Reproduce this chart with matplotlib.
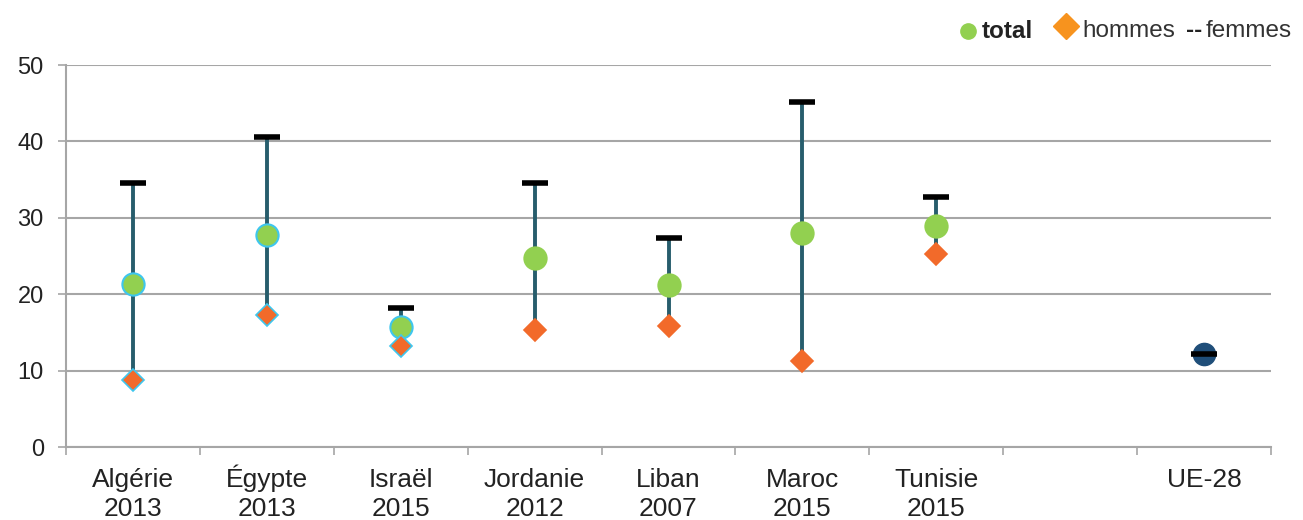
import numpy as np
import matplotlib.pyplot as plt
from matplotlib.lines import Line2D

plt.rcParams['font.family'] = ['Liberation Sans', 'DejaVu Sans']

categories = ['Algérie\n2013', 'Égypte\n2013', 'Israël\n2015', 'Jordanie\n2012',
              'Liban\n2007', 'Maroc\n2015', 'Tunisie\n2015', '', 'UE-28']
total = [21.3, 27.7, 15.7, 24.7, 21.2, 28.0, 28.9, np.nan, 12.2]
hommes = [8.8, 17.3, 13.2, 15.3, 15.8, 11.3, 25.3, np.nan, np.nan]
femmes = [34.6, 40.6, 18.2, 34.6, 27.4, 45.2, 32.7, np.nan, 12.2]
# the first three countries have markers outlined in light blue
outlined = [True, True, True, False, False, False, False, False, False]

line_col = '#275D6C'
green = '#92D050'
orange = '#F26A2A'
cyan = '#3EC6EE'
eu_blue = '#1F4E79'
grid_col = '#A6A6A6'

W, H = 1303, 520
fig = plt.figure(figsize=(W / 100, H / 100), dpi=100)
ax = fig.add_axes([66 / W, 1 - 447 / H, (1271 - 66) / W, (447 - 65) / H])

x = np.arange(len(categories))
tot = np.array(total)
hom = np.array(hommes)
fem = np.array(femmes)
edge = np.array(outlined)

# range line hommes -> femmes
for xi, h, f in zip(x, hom, fem):
    if not np.isnan(h) and not np.isnan(f):
        ax.plot([xi, xi], [h, f], color=line_col, lw=2.8, zorder=3, solid_capstyle='butt')

# total markers
for xi, t, e, lab in zip(x, tot, edge, categories):
    if np.isnan(t):
        continue
    if lab == 'UE-28':
        ax.plot(xi, t, 'o', ms=16, color=eu_blue, mec=eu_blue, zorder=4)
    else:
        ax.plot(xi, t, 'o', ms=16, color=green, mec=cyan if e else green,
                mew=1.5, zorder=4)

# hommes markers
for xi, h, e in zip(x, hom, edge):
    if np.isnan(h):
        continue
    ax.plot(xi, h, 'D', ms=11, color=orange, mec=cyan if e else orange,
            mew=1.2, zorder=4)

# femmes markers
ax.plot(x, fem, '_', ms=19, mew=4, color='black', ls='none', zorder=5)

ax.set_ylim(0, 50)
ax.set_xlim(-0.5, len(categories) - 0.5)
ax.set_yticks(range(0, 51, 10))
ax.yaxis.grid(True, color=grid_col, lw=1.5)
ax.set_axisbelow(True)

# category labels, one line at a time so accents don't shift them
ax.set_xticks([])
ax.set_xticks(np.arange(-0.5, len(categories)), minor=True)
ax.tick_params(axis='x', which='minor', length=6, width=1.2, color=grid_col)
for xi, lab in zip(x, categories):
    for k, part in enumerate(lab.split('\n')):
        ax.text(xi, -(40 + 29 * k) / 382, part, transform=ax.get_xaxis_transform(),
                ha='center', va='baseline', fontsize=19, color='#222222')

ax.tick_params(axis='y', length=6, width=1.2, color=grid_col, labelsize=17,
               labelcolor='#222222', pad=10)

for s in ['top', 'right']:
    ax.spines[s].set_visible(False)
for s in ['left', 'bottom']:
    ax.spines[s].set_color(grid_col)
    ax.spines[s].set_linewidth(1.5)

# legend, laid out by hand in pixel positions of the figure
ly = 1 - 31 / H
fig.add_artist(Line2D([968 / W], [ly], marker='o', ms=11, color=green,
                      transform=fig.transFigure))
fig.text(982 / W, ly, 'total', fontsize=17.5, fontweight='bold', color='#222222',
         va='center', ha='left')
fig.add_artist(Line2D([1066 / W], [ly + 5 / H], marker='D', ms=13, color='#F7931E',
                      transform=fig.transFigure))
fig.text(1082 / W, ly, 'hommes', fontsize=17.5, color='#333333', va='center', ha='left')
fig.text(1186 / W, ly, '--', fontsize=17.5, fontweight='bold', color='#222222',
         va='center', ha='left')
fig.text(1206 / W, ly, 'femmes', fontsize=17.5, color='#333333', va='center', ha='left')

fig.savefig('out.png', dpi=100)
